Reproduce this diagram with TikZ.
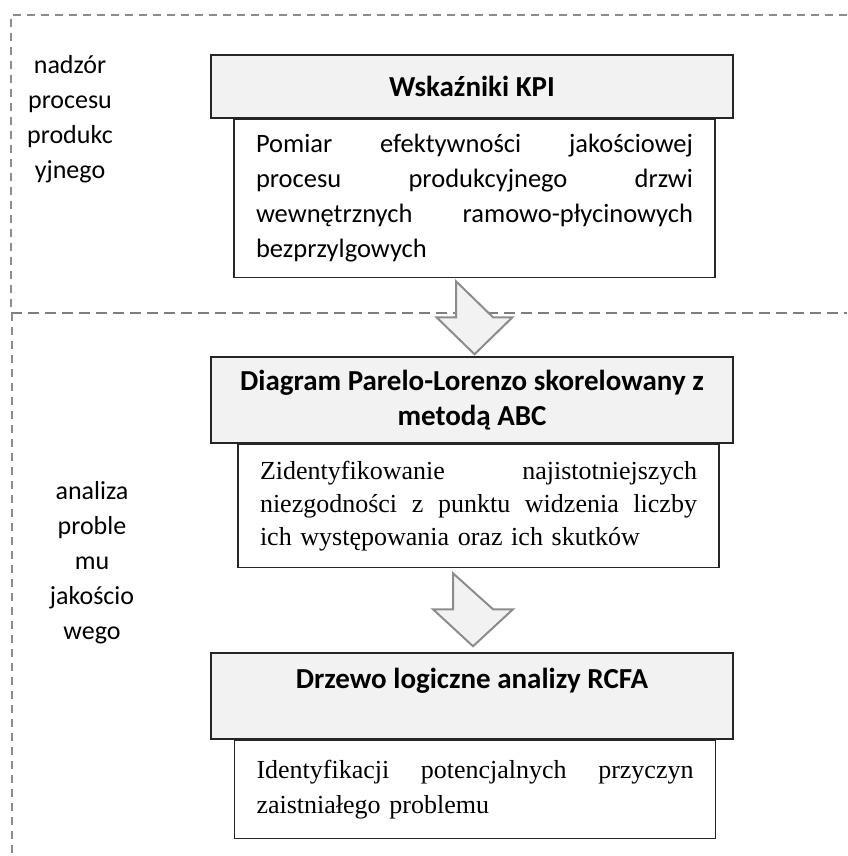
\documentclass[tikz,border=0pt]{standalone}
\usepackage{fontspec}
\setmainfont{Carlito}
\newfontfamily\timesfont{Liberation Serif}
\usepackage{tikz}
\usetikzlibrary{positioning,calc}
\definecolor{boxGray}{HTML}{F2F2F2}
\definecolor{lineGray}{HTML}{8C8C8C}
\newcommand{\diagFont}{\fontsize{26}{35}\selectfont}
\newcommand{\headFont}{\fontsize{29}{35}\selectfont\bfseries}
% justified line of a text box
\newcommand{\fullLine}[1]{\makebox[437pt][s]{\spaceskip=0pt\xspaceskip=0pt\relax #1}}
\tikzstyle{headBox}  =[draw=black!85,fill=boxGray,rectangle,minimum width=522pt,inner sep=0pt,align=center,line width=1.5pt,font=\headFont]
\tikzstyle{bodyBox}  =[draw=black!85,fill=white,rectangle,minimum width=481pt,inner sep=0pt,text width=437pt,align=left,line width=1.5pt,font=\fontsize{26.5}{35}\selectfont]
\tikzstyle{bigArrow} =[draw=lineGray,fill=boxGray,line width=2pt,line join=miter]
\tikzstyle{frameDash}=[draw=lineGray,line width=2pt,dash pattern=on 8pt off 6pt]
\tikzstyle{splitDash}=[draw=lineGray!90!black,line width=2.5pt,dash pattern=on 11pt off 6pt]
\tikzstyle{sideLabel}=[align=center,inner sep=0pt,font=\diagFont]

\begin{document}
\begin{tikzpicture}[x=1pt,y=1pt]
\useasboundingbox (0,0) rectangle (847,-856);

% dashed frame
\draw[frameDash] (847,-15) -- (11,-15) -- (11,-313);
\draw[splitDash] (11,-313) -- (847,-313);
\draw[frameDash] (12,-313) -- (12,-856);

% side labels
\node[sideLabel] (nadzor) at (70,-119.5) {nadzór\\procesu\\produkc\\yjnego};
\node[sideLabel] (analiza) at (92,-562.5) {analiza\\proble\\mu\\jakościo\\wego};

% KPI
\node[headBox,minimum height=63pt] (kpi) at (472,-86.5) {Wskaźniki KPI};
\node[bodyBox,minimum height=158pt,below=0pt of kpi,xshift=2.5pt] (kpiText) {%
\fullLine{Pomiar efektywności jakościowej}\\
\fullLine{procesu produkcyjnego drzwi}\\
\fullLine{wewnętrznych ramowo-płycinowych}\\
bezprzylgowych};

% Pareto
\node[headBox,minimum height=86pt] (pareto) at (472,-400) {Diagram Parelo-Lorenzo skorelowany z\\metodą ABC};
\node[bodyBox,minimum height=123pt,below=0pt of pareto,xshift=6.5pt,font=\timesfont\fontsize{26}{33}\selectfont] (paretoText) {%
\fullLine{Zidentyfikowanie najistotniejszych}\\
\fullLine{niezgodności z punktu widzenia liczby}\\
ich występowania oraz ich skutków};

% RCFA
\node[headBox,minimum height=86pt] (rcfa) at (472,-696) {Drzewo logiczne analizy RCFA\\~};
\node[bodyBox,minimum height=98pt,below=0pt of rcfa,xshift=3pt,font=\timesfont\diagFont] (rcfaText) {%
\fullLine{Identyfikacji potencjalnych przyczyn}\\
zaistniałego problemu};

% block arrows
\draw[bigArrow] ([xshift=-18.5pt,yshift=-3pt]kpiText.south) -- ++(0,-36) -- ++(-19.5,0) -- ++(38,-37) -- ++(38,37) -- ++(-19.5,0) -- cycle;
\draw[bigArrow] ([xshift=-25.5pt,yshift=-5pt]paretoText.south) -- ++(0,-36) -- ++(-20,0) -- ++(40,-37) -- ++(40,37) -- ++(-20,0) -- cycle;
\end{tikzpicture}
\end{document}
